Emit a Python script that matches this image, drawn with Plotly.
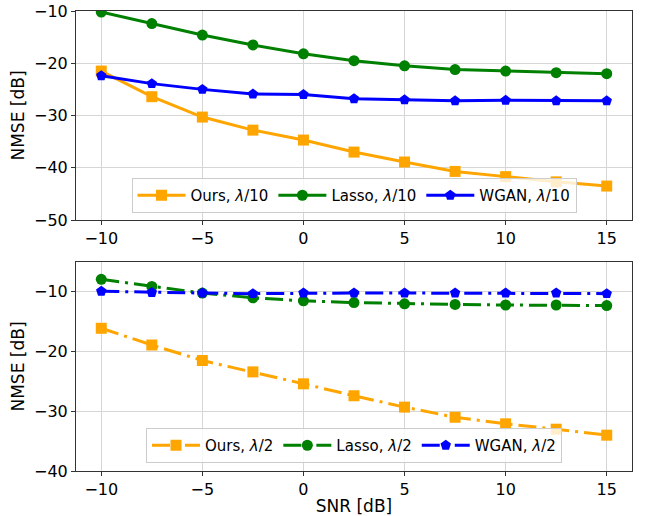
import plotly.graph_objects as go
from plotly.subplots import make_subplots

snr = [-10, -7.5, -5, -2.5, 0, 2.5, 5, 7.5, 10, 12.5, 15]

ours_10 = [-21.5, -26.4, -30.3, -32.8, -34.7, -37.0, -38.9, -40.7, -41.7, -42.7, -43.5]
lasso_10 = [-10.2, -12.4, -14.6, -16.5, -18.2, -19.5, -20.5, -21.2, -21.5, -21.8, -22.0]
wgan_10 = [-22.4, -23.9, -25.0, -25.9, -26.0, -26.8, -27.0, -27.2, -27.1, -27.2, -27.2]

ours_2 = [-16.1, -18.9, -21.5, -23.4, -25.4, -27.4, -29.3, -31.0, -32.1, -33.0, -34.0]
lasso_2 = [-7.9, -9.1, -10.2, -11.0, -11.5, -11.8, -12.0, -12.1, -12.2, -12.2, -12.3]
wgan_2 = [-9.9, -10.1, -10.2, -10.3, -10.2, -10.2, -10.2, -10.2, -10.2, -10.2, -10.3]

x_ticks = [-10, -5, 0, 5, 10, 15]
y_ticks_top = [-50, -40, -30, -20, -10]
y_ticks_bot = [-40, -30, -20, -10]

ORANGE = "#FFA500"
GREEN = "#008000"
BLUE = "#0000FF"
FONT = "DejaVu Sans"

fig = make_subplots(rows=2, cols=1, vertical_spacing=0.09)

DASHDOT = "18px,6px,3px,6px"

def add(y, name, color, symbol, msize, row, dash, legend):
    fig.add_trace(go.Scatter(
        x=snr, y=y, name=name, mode="lines+markers",
        line=dict(color=color, width=3, dash=dash),
        marker=dict(color=color, symbol=symbol, size=msize, line=dict(width=0)),
        legend=legend,
    ), row=row, col=1)

add(ours_10, "Ours, <i>λ</i>/10", ORANGE, "square", 11, 1, "solid", "legend")
add(lasso_10, "Lasso, <i>λ</i>/10", GREEN, "circle", 11, 1, "solid", "legend")
add(wgan_10, "WGAN, <i>λ</i>/10", BLUE, "pentagon", 11, 1, "solid", "legend")

add(ours_2, "Ours, <i>λ</i>/2", ORANGE, "square", 11, 2, DASHDOT, "legend2")
add(lasso_2, "Lasso, <i>λ</i>/2", GREEN, "circle", 11, 2, DASHDOT, "legend2")
add(wgan_2, "WGAN, <i>λ</i>/2", BLUE, "pentagon", 11, 2, DASHDOT, "legend2")

top_dom = [251 / 460, 1.0]
bot_dom = [0.0, 209 / 460]

axis_common = dict(
    showline=True, linecolor="#333333", linewidth=1, mirror=True,
    showgrid=True, gridcolor="#d6d6d6", gridwidth=1,
    ticks="outside", ticklen=4, tickcolor="#333333",
    tickfont=dict(family=FONT, size=16, color="black"),
    zeroline=False, automargin=False, ticklabeloverflow="allow",
)
title_font = dict(family=FONT, size=17, color="black")

fig.update_xaxes(range=[-11.25, 16.25], tickvals=x_ticks, **axis_common)
fig.update_xaxes(row=2, col=1, title=dict(text="SNR [dB]", font=title_font, standoff=2))
fig.update_yaxes(**axis_common)
fig.update_yaxes(row=1, col=1, range=[-50, -10], tickvals=y_ticks_top, domain=top_dom,
                 title=dict(text="NMSE [dB]", font=title_font, standoff=5))
fig.update_yaxes(row=2, col=1, range=[-40, -5], tickvals=y_ticks_bot, domain=bot_dom,
                 title=dict(text="NMSE [dB]", font=title_font, standoff=5))

legend_common = dict(
    orientation="h", xanchor="center", x=0.5, yanchor="bottom",
    bgcolor="rgba(255,255,255,0.8)", bordercolor="#cccccc", borderwidth=1,
    font=dict(family=FONT, size=15, color="black"),
    itemwidth=48,
)

fig.update_layout(
    width=646, height=516,
    margin=dict(l=76, r=14, t=11, b=45),
    paper_bgcolor="white", plot_bgcolor="white",
    font=dict(family=FONT, color="black"),
    legend=dict(**legend_common, y=top_dom[0] + 7 / 460),
    legend2=dict(**legend_common, y=bot_dom[0] + 8 / 460),
    showlegend=True,
)

# remove the default 8px page margin so the figure fills the window exactly
fig.write_html("out.html", config={"displayModeBar": False},
               post_script="document.body.style.margin='0';")
